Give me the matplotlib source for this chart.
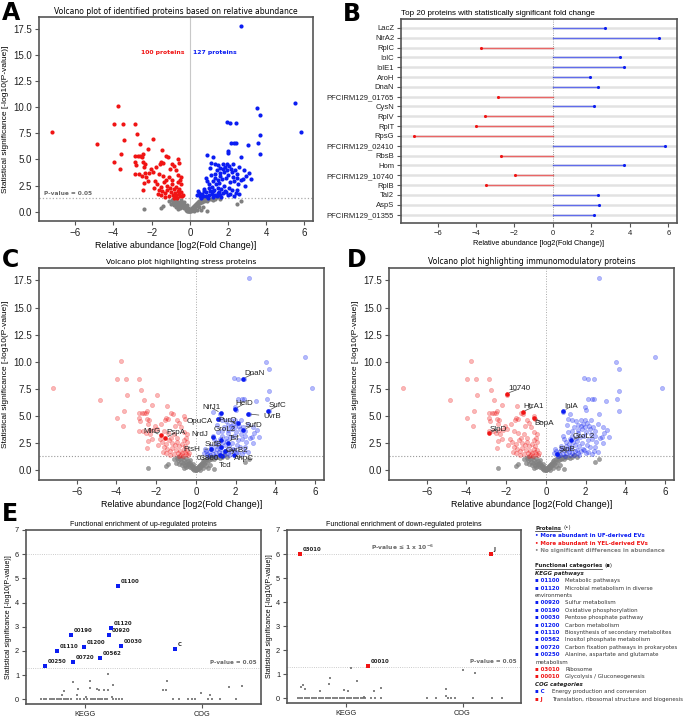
import matplotlib
matplotlib.use('Agg')
import matplotlib.pyplot as plt
from matplotlib.lines import Line2D
import numpy as np

plt.rcParams['font.family'] = ['Liberation Sans', 'DejaVu Sans']

BLUE = '#0b1df2'
RED = '#f01414'
GREY = '#808080'
SPINE = '#555555'

# ---- volcano data: (log2 fold change, -log10 p-value) ----
red_pts = [(-7.2, 7.6), (-4.85, 6.5), (-3.75, 10.1), (-3.98, 8.4), (-3.5, 8.4), (-3.45, 6.9),
           (-3.6, 5.5), (-3.95, 4.8), (-3.65, 4.05), (-2.85, 8.4), (-2.75, 7.4), (-2.6, 6.45),
           (-1.95, 6.95), (-2.2, 6.0), (-2.45, 5.5), (-1.45, 5.9), (-1.25, 5.3), (-1.15, 5.2),
           (-2.85, 5.3), (-2.72, 5.3), (-2.6, 5.3), (-2.5, 5.25), (-2.85, 4.8), (-2.45, 4.75),
           (-2.35, 4.6), (-2.8, 4.5), (-2.4, 4.3), (-1.5, 4.8), (-1.55, 4.6), (-1.4, 4.7),
           (-0.95, 4.6), (-0.6, 5.0), (-0.55, 4.7), (-0.85, 4.35), (-0.75, 4.0), (-2.85, 3.65),
           (-2.65, 3.6), (-2.35, 3.7), (-2.15, 3.7), (-1.95, 3.8), (-2.5, 3.4), (-2.3, 3.3),
           (-1.6, 3.6), (-1.4, 3.4), (-1.1, 3.3), (-0.6, 3.5), (-0.45, 3.3), (-0.5, 3.0),
           (-2.4, 2.7), (-2.2, 2.9), (-2.45, 2.05), (-1.8, 2.9), (-1.7, 2.6), (-1.5, 2.4),
           (-1.35, 2.8), (-1.2, 2.5), (-1.05, 2.3), (-0.95, 2.6), (-0.85, 2.2), (-0.7, 2.4),
           (-0.45, 2.6), (-1.6, 2.1), (-1.45, 1.95), (-1.3, 1.8), (-1.2, 2.05), (-1.0, 1.9),
           (-0.9, 1.6), (-0.8, 1.8), (-0.7, 1.6), (-0.6, 2.0), (-0.55, 1.7), (-0.5, 1.5),
           (-0.45, 1.9), (-0.4, 1.45), (-1.5, 1.6), (-1.1, 1.5), (-0.75, 1.4), (-0.65, 1.35),
           (-0.35, 1.6), (-1.9, 2.3), (-1.25, 3.0), (-2.05, 4.1), (-1.75, 4.3), (-1.05, 4.1),
           (-0.95, 3.0), (-0.6, 2.8), (-1.65, 1.7), (-0.85, 1.35), (-1.3, 1.4), (-0.55, 2.2)]
blue_pts = [(2.68, 17.75), (5.49, 10.45), (5.84, 7.6), (3.51, 9.95), (3.68, 9.3), (3.68, 7.3),
            (3.56, 6.6), (3.67, 5.5), (3.02, 6.4), (1.93, 8.55), (2.1, 8.45), (2.4, 8.45),
            (2.14, 6.6), (2.3, 6.6), (2.42, 6.6), (1.98, 5.8), (2.02, 5.6), (2.67, 5.2),
            (0.88, 5.4), (1.23, 5.2), (1.1, 4.7), (1.3, 4.6), (1.5, 4.5), (1.6, 4.2),
            (1.75, 4.6), (1.85, 4.3), (1.95, 4.6), (2.05, 4.4), (2.15, 4.1), (2.25, 4.6),
            (2.35, 4.0), (1.4, 4.0), (2.6, 4.3), (2.85, 4.0), (3.1, 3.7), (2.95, 3.4),
            (3.2, 3.1), (2.9, 2.5), (2.8, 3.1), (2.45, 3.6), (2.2, 3.8), (2.0, 3.5),
            (1.8, 3.8), (1.6, 3.4), (1.5, 3.0), (1.3, 3.2), (1.2, 2.9), (0.85, 3.2),
            (0.9, 2.9), (1.0, 2.6), (1.15, 2.4), (1.35, 2.6), (1.55, 2.7), (1.7, 3.1),
            (1.9, 3.2), (2.1, 2.8), (2.3, 2.9), (2.5, 2.6), (1.8, 2.5), (2.05, 2.3),
            (1.65, 2.2), (1.45, 2.3), (1.25, 2.1), (1.05, 2.0), (0.85, 1.9), (0.65, 1.7),
            (0.45, 2.0), (0.4, 1.6), (0.55, 1.5), (0.7, 1.45), (0.85, 1.5), (1.0, 1.6),
            (1.15, 1.7), (1.3, 1.55), (1.45, 1.75), (1.6, 1.6), (1.75, 1.8), (1.9, 1.9),
            (2.1, 1.7), (2.3, 1.5), (2.6, 1.7), (1.2, 1.4), (0.95, 1.35), (0.75, 2.2),
            (1.4, 1.45), (1.85, 2.0), (1.55, 1.9), (2.45, 2.1), (2.2, 2.1), (0.6, 1.35),
            (1.1, 3.5), (1.3, 3.6), (1.6, 3.7), (1.05, 4.2), (1.75, 4.1), (1.95, 4.0),
            (2.25, 3.3), (2.45, 3.2), (2.7, 3.0), (0.75, 1.95), (0.5, 1.8), (1.0, 2.25),
            (1.2, 1.95), (1.65, 1.4), (2.0, 1.55), (2.4, 1.8)]
grey_pts = [(-2.4, 0.22), (-1.5, 0.35), (-1.4, 0.58), (-0.9, 0.9), (-0.88, 1.2), (-0.95, 1.1),
            (-0.85, 0.6), (-0.8, 1.0), (-0.75, 0.8), (-0.7, 1.15), (-0.65, 0.7), (-0.6, 0.95),
            (-0.55, 0.5), (-0.5, 0.8), (-0.48, 1.1), (-0.45, 0.6), (-0.4, 0.4), (-0.38, 0.85),
            (-0.35, 0.55), (-0.3, 0.3), (-0.28, 0.65), (-0.25, 0.45), (-0.2, 0.2), (-0.18, 0.4),
            (-0.15, 0.1), (-0.12, 0.3), (-0.1, 0.05), (-0.08, 0.2), (-0.05, 0.1), (-0.02, 0.02),
            (0.0, 0.15), (0.03, 0.05), (0.05, 0.25), (0.08, 0.1), (0.1, 0.3), (0.12, 0.15),
            (0.15, 0.4), (0.18, 0.2), (0.2, 0.5), (0.22, 0.3), (0.25, 0.6), (0.28, 0.4),
            (0.3, 0.7), (0.33, 0.5), (0.35, 0.85), (0.4, 0.6), (0.42, 0.95), (0.45, 0.75),
            (0.5, 1.0), (0.55, 0.8), (0.6, 1.1), (0.65, 0.9), (0.7, 1.2), (0.75, 1.0),
            (0.8, 1.15), (0.85, 1.25), (0.9, 1.05), (0.95, 1.2), (1.0, 1.25), (1.1, 1.2),
            (1.2, 1.15), (0.91, 0.1), (1.4, 1.38), (1.58, 1.22), (2.49, 0.74), (2.67, 1.06),
            (-0.6, 0.25), (-0.3, 0.9), (0.2, 0.05), (-0.5, 0.3), (0.5, 0.4), (-1.0, 0.7),
            (-1.1, 1.0), (0.7, 0.45), (-0.7, 0.45), (0.35, 0.2), (-0.15, 0.6), (0.6, 0.2),
            (1.3, 1.25)]

# ---- panel B: top 20 proteins ----
top_names = ['LacZ', 'NirA2', 'RplC', 'IolC', 'IolE1', 'AroH', 'DnaN', 'PFCIRM129_01765',
             'CysN', 'RplV', 'RplT', 'RpsG', 'PFCIRM129_02410', 'RbsB', 'Hom',
             'PFCIRM129_10740', 'RplB', 'Tal2', 'AspS', 'PFCIRM129_01355']
top_fc = [2.7, 5.49, -3.74, 3.5, 3.67, 1.92, 2.35, -2.84, 2.11, -3.53, -4.0, -7.2, 5.84,
          -2.72, 3.69, -1.96, -3.5, 2.34, 2.4, 2.15]

# ---- panel C: stress proteins ----
stress_names = ['DnaN', 'HelD', 'SufC', 'UvrB', 'NifJ1', 'OpuCA', 'PurQ', 'SufD', 'GroL2',
                'NrdJ', 'Tsf', 'SufB', 'FtsH', 'GyrB2', '03860', 'AhpC', 'Tcd', 'MlrG', 'PspA']
stress_fc = [2.37, 1.97, 3.65, 2.64, 1.25, 1.11, 2.1, 2.39, 1.28, 0.87, 1.6, 1.25, 0.78,
             1.45, 1.2, 1.9, 1.3, -1.78, -1.54]
stress_p = [8.45, 5.66, 5.5, 5.2, 5.3, 4.68, 4.35, 3.75, 2.77, 3.07, 2.55, 2.1, 1.97, 1.75,
            1.45, 1.4, 1.3, 3.23, 3.0]
stress_text_xy = [(2.45, 8.95), (2.0, 6.15), (3.68, 5.95), (3.38, 4.95), (0.32, 5.75),
                  (-0.47, 4.45), (1.15, 4.55), (2.47, 4.15), (0.9, 3.75), (-0.22, 3.3),
                  (1.63, 2.92), (0.44, 2.37), (-0.62, 1.9), (1.5, 1.85), (0.04, 1.05),
                  (1.9, 1.05), (1.15, 0.4), (-2.63, 3.6), (-1.49, 3.45)]

# ---- panel D: immunomodulatory proteins ----
immuno_names = ['10740', 'HtrA1', 'BopA', 'SlpD', 'InlA', 'GroL2', 'SlpB']
immuno_fc = [-1.98, -1.17, -0.6, -2.87, 0.88, 1.28, 0.57]
immuno_p = [7.07, 5.4, 4.79, 3.41, 5.49, 2.8, 1.51]
immuno_text_xy = [(-1.9, 7.5), (-1.12, 5.85), (-0.57, 4.35), (-2.85, 3.8), (0.94, 5.9),
                  (1.36, 3.15), (0.66, 1.95)]

# ---- panel E: functional enrichment (x = jittered position, 0 = KEGG, 1 = COG) ----
up_terms = ['00250', '01110', '00190', '00720', '01200', '00562', '00920', '01120', '01100',
            '00030', 'C']
up_x = [-0.34, -0.24, -0.12, -0.10, -0.01, 0.13, 0.205, 0.22, 0.28, 0.305, 0.77]
up_p = [1.36, 2.0, 2.64, 1.54, 2.16, 1.70, 2.64, 2.93, 4.69, 2.19, 2.09]
up_ns = [(-0.1, 0.72), (-0.18, 0.35), (-0.19, 0.17), (-0.06, 0.43), (0.045, 0.77), (0.045, 0.46),
         (0.1, 0.43), (0.12, 0.4), (0.16, 0.36), (0.2, 0.39), (0.2, 1.04), (0.24, 0.57),
         (0.01, 0.11), (-0.07, 0.17), (0.23, 0.11),
         (-0.37, 0), (-0.35, 0), (-0.33, 0), (-0.3, 0), (-0.28, 0), (-0.26, 0), (-0.24, 0),
         (-0.22, 0), (-0.2, 0), (-0.18, 0), (-0.16, 0), (-0.14, 0), (-0.12, 0), (-0.07, 0),
         (-0.04, 0), (-0.01, 0), (0.02, 0), (0.05, 0), (0.07, 0), (0.09, 0), (0.11, 0),
         (0.13, 0), (0.15, 0), (0.17, 0), (0.19, 0), (0.24, 0), (0.27, 0), (0.29, 0), (0.32, 0),
         (0.67, 0.36), (0.70, 0.76), (0.69, 0.36), (0.75, 0), (0.8, 0), (0.88, 0), (0.91, 0),
         (0.94, 0), (0.99, 0.25), (1.05, 0), (1.07, 0.19), (1.08, 0), (1.15, 0), (1.23, 0.5),
         (1.29, 0), (1.34, 0.54)]
down_terms = ['03010', '00010', 'J']
down_x = [-0.39, 0.19, 1.24]
down_p = [6.0, 1.35, 6.0]
down_ns = [(-0.38, 0.46), (-0.36, 0.55), (-0.35, 0.39), (-0.22, 0.28), (-0.14, 0.57),
           (-0.13, 0.83), (-0.01, 0.33), (0.02, 0.29), (0.05, 1.27), (0.1, 0.72), (0.24, 0.29),
           (0.3, 0.43), (0.16, 0.07),
           (-0.41, 0), (-0.39, 0), (-0.37, 0), (-0.35, 0), (-0.33, 0), (-0.31, 0), (-0.29, 0),
           (-0.27, 0), (-0.25, 0), (-0.23, 0), (-0.21, 0), (-0.19, 0), (-0.17, 0), (-0.15, 0),
           (-0.13, 0), (-0.11, 0), (-0.09, 0), (-0.07, 0), (-0.05, 0), (-0.03, 0), (-0.01, 0),
           (0.01, 0), (0.03, 0), (0.05, 0), (0.07, 0), (0.09, 0), (0.11, 0), (0.13, 0), (0.15, 0),
           (0.17, 0), (0.22, 0), (0.25, 0), (0.3, 0),
           (0.7, 0), (0.77, 0), (0.86, 0.39), (0.86, 0.11), (0.88, 0), (0.9, 0), (0.94, 0),
           (1.0, 1.17), (1.09, 0), (1.11, 1.05), (1.25, 0), (1.34, 0)]

# legend rows on the right: (code, description, colour); code None = wrapped line
kegg_rows = [('01100', 'Metabolic pathways', BLUE),
             ('01120', 'Microbial metabolism in diverse', BLUE),
             (None, 'environments', BLUE),
             ('00920', 'Sulfur metabolism', BLUE),
             ('00190', 'Oxidative phosphorylation', BLUE),
             ('00030', 'Pentose phosphate pathway', BLUE),
             ('01200', 'Carbon metabolism', BLUE),
             ('01110', 'Biosynthesis of secondary metabolites', BLUE),
             ('00562', 'Inositol phosphate metabolism', BLUE),
             ('00720', 'Carbon fixation pathways in prokaryotes', BLUE),
             ('00250', 'Alanine, aspartate and glutamate', BLUE),
             (None, 'metabolism', BLUE),
             ('03010', 'Ribosome', RED),
             ('00010', 'Glycolysis / Gluconeogenesis', RED)]
cog_rows = [('C', 'Energy production and conversion', BLUE),
            ('J', 'Translation, ribosomal structure and biogenesis', RED)]

red_pts = np.array(red_pts)
blue_pts = np.array(blue_pts)
grey_pts = np.array(grey_pts)
up_ns = np.array(up_ns)
down_ns = np.array(down_ns)

W, H = 696, 718
fig = plt.figure(figsize=(W / 100, H / 100), dpi=100)


def fx(x):
    return x / W


def fy(y):
    return 1 - y / H


def px_axes(l, t, r, b):
    return fig.add_axes([fx(l), fy(b), (r - l) / W, (b - t) / H])


def frame(ax, tsize):
    for s in ax.spines.values():
        s.set_color(SPINE)
        s.set_linewidth(1.2)
    ax.tick_params(direction='out', length=3, width=0.8, color=SPINE, labelsize=tsize,
                   pad=2, labelcolor='#222222')


def volcano(ax, fade):
    if fade:
        ax.scatter(grey_pts[:, 0], grey_pts[:, 1], s=9, color=GREY, lw=0.4, alpha=0.75)
        ax.scatter(red_pts[:, 0], red_pts[:, 1], s=9, color=RED, lw=0.5, alpha=0.3)
        ax.scatter(blue_pts[:, 0], blue_pts[:, 1], s=9, color=BLUE, lw=0.5, alpha=0.3)
        ax.axvline(0, color='#aaaaaa', lw=0.7, ls=':', zorder=0)
        ax.axhline(-np.log10(0.05), color='#999999', lw=0.8, ls=':', zorder=0)
    else:
        ax.scatter(grey_pts[:, 0], grey_pts[:, 1], s=9, color=GREY, lw=0)
        ax.scatter(red_pts[:, 0], red_pts[:, 1], s=9, color=RED, lw=0)
        ax.scatter(blue_pts[:, 0], blue_pts[:, 1], s=9, color=BLUE, lw=0)
        ax.axvline(0, color='#c8c8c8', lw=0.8, zorder=0)
        ax.axhline(-np.log10(0.05), color='#aaaaaa', lw=0.9, ls=':', zorder=0)
    ax.set_xlim(-7.9, 6.45)
    ax.set_ylim(-0.9, 18.65)
    ax.set_xticks(range(-6, 7, 2))
    ax.set_yticks(np.arange(0, 17.6, 2.5))
    frame(ax, 7)
    ax.set_xlabel('Relative abundance [log2(Fold Change)]', fontsize=6.4, labelpad=2)
    ax.set_ylabel('Statistical significance [-log10(P-value)]', fontsize=6, labelpad=3)


def highlight(ax, names, xs, ys, txy, color_of):
    for n, x, y, (tx, ty) in zip(names, xs, ys, txy):
        ax.scatter([x], [y], s=11, color=color_of(x), lw=0, zorder=4)
        ax.annotate(n, (x, y), xytext=(tx, ty), fontsize=5.8, color='#222222',
                    ha='left', va='center', zorder=5,
                    arrowprops=dict(arrowstyle='-', color='#444444', lw=0.5,
                                    shrinkA=1, shrinkB=2))


def side_colour(x):
    return BLUE if x > 0 else RED


# ---- A ----
axA = px_axes(39, 17, 313, 221)
volcano(axA, False)
axA.set_title('Volcano plot of identified proteins based on relative abundance',
              fontsize=5.5, family='DejaVu Sans', pad=2)
axA.text(-0.3, 15.25, '100 proteins', color=RED, fontsize=4.4, weight='bold',
         family='DejaVu Sans', ha='right', va='center')
axA.text(0.17, 15.25, '127 proteins', color=BLUE, fontsize=4.4, weight='bold',
         family='DejaVu Sans', ha='left', va='center')
axA.text(-7.65, 1.45, 'P-value = 0.05', color='#666666', fontsize=4.2, weight='bold',
         family='DejaVu Sans', ha='left', va='bottom')

# ---- B ----
axB = px_axes(401, 19, 677, 223)
rows = np.arange(len(top_names))[::-1]
for r, v in zip(rows, top_fc):
    axB.axhline(r, color='#e2e2e2', lw=1.8, zorder=0)
    c = BLUE if v > 0 else RED
    axB.plot([0, v], [r, r], color=c, lw=1.0, alpha=0.6, zorder=2)
    axB.scatter([v], [r], s=5, color=c, lw=0, zorder=3)
axB.axvline(0, color='#888888', lw=0.6, ls=':', zorder=1)
axB.set_yticks(rows)
axB.set_yticklabels(top_names)
axB.set_ylim(-0.85, len(top_names) - 0.1)
axB.set_xlim(-7.9, 6.45)
axB.set_xticks(range(-6, 7, 2))
frame(axB, 5.5)
axB.set_xlabel('Relative abundance [log2(Fold Change)]', fontsize=5.3, labelpad=2)
axB.set_title('Top 20 proteins with statistically significant fold change',
              fontsize=5.8, loc='left', pad=3)

# ---- C ----
axC = px_axes(39, 268, 324, 480)
volcano(axC, True)
axC.set_title('Volcano plot highlighting stress proteins', fontsize=5.4,
              family='DejaVu Sans', pad=3)
highlight(axC, stress_names, stress_fc, stress_p, stress_text_xy, side_colour)

# ---- D ----
axD = px_axes(389, 268, 674, 480)
volcano(axD, True)
axD.set_title('Volcano plot highlighting immunomodulatory proteins', fontsize=5.5,
              family='DejaVu Sans', pad=3)
highlight(axD, immuno_names, immuno_fc, immuno_p, immuno_text_xy, side_colour)


# ---- E ----
def enrichment(ax, ns, terms, xs, ps, colour, title):
    ax.scatter(ns[:, 0], ns[:, 1], s=4, marker='s', color='#6e6e6e', lw=0, alpha=0.85)
    for t, x, p in zip(terms, xs, ps):
        ax.scatter([x], [p], s=6, marker='s', color=colour, lw=0, zorder=3)
        ax.annotate(t, (x, p), xytext=(2, 1.5), textcoords='offset points', fontsize=3.9,
                    weight='bold', family='DejaVu Sans', ha='left', va='bottom',
                    color='#222222')
    ax.axhline(6, color='#bbbbbb', lw=0.6, ls=':', zorder=0)
    ax.axhline(-np.log10(0.05), color='#bbbbbb', lw=0.6, ls=':', zorder=0)
    ax.set_xlim(-0.5, 1.5)
    ax.set_ylim(-0.2, 7)
    ax.set_xticks([0, 1])
    ax.set_xticklabels(['KEGG', 'COG'])
    ax.set_yticks(range(8))
    frame(ax, 5.3)
    ax.set_ylabel('Statistical significance [-log10(P-value)]', fontsize=5, labelpad=2)
    ax.set_title(title, fontsize=5, pad=3)
    ax.text(1.46, 1.42, 'P-value = 0.05', color='#666666', fontsize=4.1, weight='bold',
            family='DejaVu Sans', ha='right', va='bottom')


axE1 = px_axes(26, 530, 261, 704)
enrichment(axE1, up_ns, up_terms, up_x, up_p, BLUE,
           'Functional enrichment of up-regulated proteins')
axE2 = px_axes(287, 530, 521, 703)
enrichment(axE2, down_ns, down_terms, down_x, down_p, RED,
           'Functional enrichment of down-regulated proteins')
axE2.text(0.22, 6.08, r'P-value ≤ 1 x 10$^{\mathbf{-6}}$', color='#666666', fontsize=4.3,
          weight='bold', family='DejaVu Sans', ha='left', va='bottom')

# ---- panel letters ----
for letter, x, y in [('A', 2, 1), ('B', 343, 2), ('C', 2, 248), ('D', 347, 248), ('E', 2, 502)]:
    fig.text(fx(x), fy(y), letter, fontsize=17, weight='bold', ha='left', va='top',
             family='DejaVu Sans')

# ---- legend block ----
LF = dict(family='DejaVu Sans', fontsize=4.0, va='center')
fig.canvas.draw()
renderer = fig.canvas.get_renderer()


def heading(txt, mark, y):
    t = fig.text(fx(535), fy(y), txt, weight='bold', color='#222222', **LF)
    bb = t.get_window_extent(renderer)
    fig.text(fx(bb.x1 + 2), fy(y), mark, color='#222222', **LF)
    fig.add_artist(Line2D([fx(535), fx(bb.x1)], [fy(y + 3.3), fy(y + 3.3)], lw=0.5,
                          color='#222222'))


heading('Proteins', '(•)', 528)
for i, (txt, c) in enumerate([('• More abundant in UF-derived EVs', BLUE),
                              ('• More abundant in YEL-derived EVs', RED),
                              ('• No significant differences in abundance', GREY)]):
    fig.text(fx(535), fy(535.7 + 7.5 * i), txt, color=c, weight='bold', **LF)

heading('Functional categories', '(▪)', 566)
fig.text(fx(535), fy(573.3), 'KEGG pathways', weight='bold', style='italic',
         color='#222222', **LF)
y = 580.7
for code, desc, c in kegg_rows:
    if code is None:
        fig.text(fx(535), fy(y), desc, color='#333333', **LF)
    else:
        fig.text(fx(535), fy(y), '▪ ' + code, color=c, weight='bold', **LF)
        fig.text(fx(565), fy(y), desc, color='#333333', **LF)
    y += 7.4
fig.text(fx(535), fy(y), 'COG categories', weight='bold', style='italic',
         color='#222222', **LF)
y += 7.4
for code, desc, c in cog_rows:
    fig.text(fx(535), fy(y), '▪ ' + code, color=c, weight='bold', **LF)
    fig.text(fx(552), fy(y), desc, color='#333333', **LF)
    y += 7.4

fig.savefig('out.png', dpi=100)
